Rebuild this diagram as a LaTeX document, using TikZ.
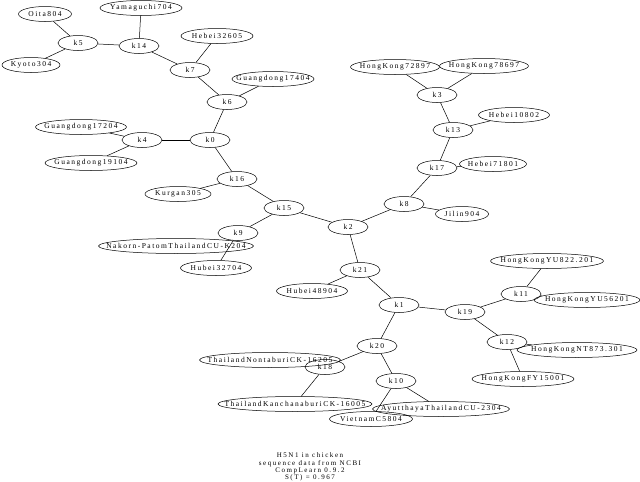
\documentclass[tikz,border=0pt]{standalone}
\usepackage{fontspec}
\newfontfamily\labelfont[LetterSpace=20]{Liberation Serif}
\newfontfamily\captionfont[LetterSpace=22]{Liberation Serif}
\usetikzlibrary{shapes.geometric}

\begin{document}
\begin{tikzpicture}[
    x=1pt, y=-1pt,
    every node/.style={font=\labelfont\fontsize{7.5}{8}\selectfont},
    inner/.style={draw, ellipse, inner sep=0pt, minimum width=40pt,
                  minimum height=15pt},
    leaf/.style ={draw, ellipse, inner xsep=-60pt, inner ysep=0pt,
                  minimum height=15pt, minimum width=#1},
    every path/.style={line width=0.5pt},
]
\useasboundingbox (0,0) rectangle (640,482);

\node[inner] (k0)  at (210,140) {k0};
\node[inner] (k1)  at (399,305) {k1};
\node[inner] (k2)  at (348,227) {k2};
\node[inner] (k3)  at (437,95)  {k3};
\node[inner] (k4)  at (142,140) {k4};
\node[inner] (k5)  at (78,43)   {k5};
\node[inner] (k6)  at (227,102) {k6};
\node[inner] (k7)  at (190,70)  {k7};
\node[inner] (k8)  at (404,204) {k8};
\node[inner] (k9)  at (238,233) {k9};
\node[inner] (k10) at (396,381) {k10};
\node[inner] (k11) at (521,294) {k11};
\node[inner] (k12) at (507,342) {k12};
\node[inner] (k13) at (453,130) {k13};
\node[inner] (k14) at (139,46)  {k14};
\node[inner] (k15) at (284,208) {k15};
\node[inner] (k16) at (237,179) {k16};
\node[inner] (k17) at (437,168) {k17};
\node[inner] (k18) at (325,367) {k18};
\node[inner] (k19) at (465,312) {k19};
\node[inner] (k20) at (377,346) {k20};
\node[inner] (k21) at (360,270) {k21};

\node[leaf=53pt]  (oita)         at (45,14)   {Oita804};
\node[leaf=58pt]  (kyoto)        at (31,65)   {Kyoto304};
\node[leaf=82pt]  (yamaguchi)    at (141,8)   {Yamaguchi704};
\node[leaf=72pt]  (hebei326)     at (217,36)  {Hebei32605};
\node[leaf=82pt]  (gd174)        at (273,79)  {Guangdong17404};
\node[leaf=91pt]  (gd172)        at (81,127)  {Guangdong17204};
\node[leaf=92pt]  (gd191)        at (91,163)  {Guangdong19104};
\node[leaf=66pt]  (kurgan)       at (178,194) {Kurgan305};
\node[leaf=155pt] (nakorn)       at (176,246) {Nakorn-PatomThailandCU-K204};
\node[leaf=71pt]  (hubei327)     at (216,268) {Hubei32704};
\node[leaf=71pt]  (hubei489)     at (312,291) {Hubei48904};
\node[leaf=89pt]  (hk728)        at (395,67)  {HongKong72897};
\node[leaf=89pt]  (hk786)        at (484,66)  {HongKong78697};
\node[leaf=71pt]  (hebei108)     at (514,115) {Hebei10802};
\node[leaf=67pt]  (hebei718)     at (493,164) {Hebei71801};
\node[leaf=53pt]  (jilin)        at (462,214) {Jilin904};
\node[leaf=113pt] (yu822)        at (547,261) {HongKongYU822.201};
\node[leaf=106pt] (yu562)        at (587,300) {HongKongYU56201};
\node[leaf=120pt] (nt873)        at (577,350) {HongKongNT873.301};
\node[leaf=102pt] (fy150)        at (523,379) {HongKongFY15001};
\node[leaf=141pt] (nontaburi)    at (270,360) {ThailandNontaburiCK-16205};
\node[leaf=154pt] (kanchanaburi) at (295,404) {ThailandKanchanaburiCK-16005};
\node[leaf=137pt] (ayutthaya)    at (441,409) {AyutthayaThailandCU-2304};
\node[leaf=83pt]  (vietnam)      at (371,419) {VietnamC5804};

\node[align=center, font=\captionfont\fontsize{7}{7.2}\selectfont] (caption)
      at (310,467) {H5N1 in chicken\\sequence data from NCBI\\CompLearn 0.9.2\\S(T) = 0.967};

\draw (k5)  -- (oita);
\draw (k5)  -- (kyoto);
\draw (k5)  -- (k14);
\draw (k14) -- (yamaguchi);
\draw (k14) -- (k7);
\draw (k7)  -- (hebei326);
\draw (k7)  -- (k6);
\draw (k6)  -- (gd174);
\draw (k6)  -- (k0);
\draw (k0)  -- (k4);
\draw (k4)  -- (gd172);
\draw (k4)  -- (gd191);
\draw (k0)  -- (k16);
\draw (k16) -- (kurgan);
\draw (k16) -- (k15);
\draw (k15) -- (k9);
\draw (k9)  -- (hubei327);
\draw (k15) -- (k2);
\draw (k2)  -- (k8);
\draw (k8)  -- (jilin);
\draw (k8)  -- (k17);
\draw (k17) -- (hebei718);
\draw (k17) -- (k13);
\draw (k13) -- (hebei108);
\draw (k13) -- (k3);
\draw (k3)  -- (hk728);
\draw (k3)  -- (hk786);
\draw (k2)  -- (k21);
\draw (k21) -- (hubei489);
\draw (k21) -- (k1);
\draw (k1)  -- (k19);
\draw (k19) -- (k11);
\draw (k11) -- (yu822);
\draw (k11) -- (yu562);
\draw (k19) -- (k12);
\draw (k12) -- (nt873);
\draw (k12) -- (fy150);
\draw (k1)  -- (k20);
\draw (k20) -- (k18);
\draw (k18) -- (kanchanaburi);
\draw (k20) -- (k10);
\draw (k10) -- (ayutthaya);
\draw (k10) -- (vietnam);

\end{tikzpicture}
\end{document}
